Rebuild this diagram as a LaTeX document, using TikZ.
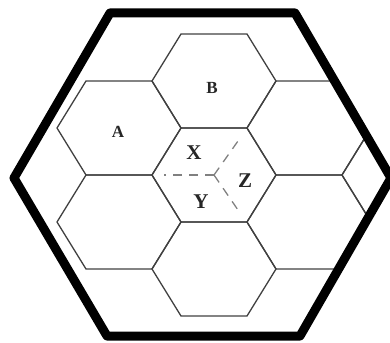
\documentclass[tikz,border=0pt]{standalone}
\usepackage{fontspec}
\setmainfont{Liberation Serif}
\tikzset{
  cell/.style={draw=black!75, line width=1.3pt, line join=round},
  rim/.style={draw=black, line width=9pt, line join=round},
  split/.style={draw=black!50, line width=1.3pt, dash pattern=on 9pt off 7pt},
  lbl/.style={font=\fontsize{21}{24}\selectfont\bfseries, text=black!85, inner sep=0pt},
  lblsmall/.style={font=\fontsize{17}{20}\selectfont\bfseries, text=black!85, inner sep=0pt}
}
\begin{document}
\begin{tikzpicture}[x=1pt,y=-1pt]
\useasboundingbox (0,0) rectangle (390,342);
% outer hexagon corners
\coordinate (o1) at (110,13);
\coordinate (o2) at (295,13);
\coordinate (o3) at (391,178);
\coordinate (o4) at (300,336);
\coordinate (o5) at (107,336);
\coordinate (o6) at (14,178);
\begin{scope}
  \clip (o1) -- (o2) -- (o3) -- (o4) -- (o5) -- (o6) -- cycle;
  \foreach \cx/\cy in {214/81,214/175,214/269,119/128,119/222,309/128,309/222,404/175}{
    \draw[cell] (\cx-33,\cy-47) -- (\cx+33,\cy-47) -- (\cx+62,\cy) -- (\cx+33,\cy+47) -- (\cx-33,\cy+47) -- (\cx-62,\cy) -- cycle;
  }
\end{scope}
\draw[rim] (o1) -- (o2) -- (o3) -- (o4) -- (o5) -- (o6) -- cycle;
% dashed splits of the centre cell
\coordinate (c) at (214,175);
\coordinate (cl) at (164,175);
\coordinate (cu) at (238,141);
\coordinate (cd) at (238,210);
\draw[split] (c) -- (cl);
\draw[split] (c) -- (cu);
\draw[split] (c) -- (cd);
% labels
\node[lbl] (x) at (194,153) {X};
\node[lbl] (y) at (201,202) {Y};
\node[lbl] (z) at (245,181) {Z};
\node[lblsmall] (b) at (212,88) {B};
\node[lblsmall] (a) at (118,132) {A};
\end{tikzpicture}
\end{document}
